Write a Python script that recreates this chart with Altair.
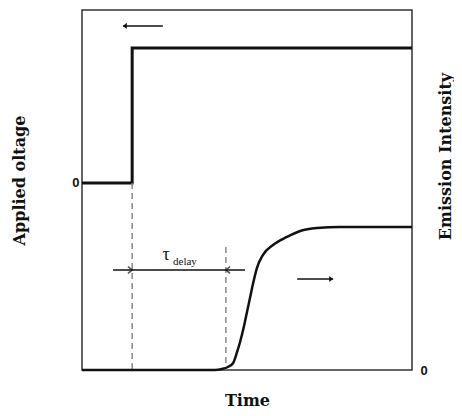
import altair as alt
import pandas as pd

# ---- data ----
# Applied voltage (step)
volt_t = [0.0, 1.52, 1.52, 10.0]
volt_v = [0.0, 0.0, 1.0, 1.0]

# Emission intensity (delayed sigmoid rise)
emis_t = [0.0, 4.03, 4.24, 4.42, 4.58, 4.70, 4.79, 4.91, 5.00, 5.09, 5.18, 5.30,
          5.48, 5.79, 6.21, 6.61, 7.12, 7.82, 10.0]
emis_i = [0.0, 0.0, 0.007, 0.021, 0.049, 0.126, 0.196, 0.308, 0.406, 0.503, 0.601,
          0.713, 0.804, 0.874, 0.930, 0.972, 0.993, 1.0, 1.0]

# dashed guide lines (time, from voltage level, to voltage level)
guide_t = [1.52, 4.36]
guide_v1 = [0.0, -0.474]
guide_v2 = [-1.385, -1.385]

# delay double arrow
delay_t1, delay_t2, delay_v = 0.94, 4.94, -0.644
delay_heads_t = [1.52, 4.36]
delay_heads_dir = ["right", "left"]

# axis direction arrows
dir_t1 = [2.45, 6.52]
dir_t2 = [1.24, 7.61]
dir_v = [1.163, -0.711]
dir_head = ["left", "right"]

# label
tau_t, tau_v = 2.55, -0.53
sub_t, sub_v = 3.12, -0.585

T_DOM = [0, 10]
V_DOM = [-1.385, 1.281]
I_DOM = [0, 2.517]

W, H = 330, 360

xs = alt.Scale(domain=T_DOM, nice=False, zero=False)
vs = alt.Scale(domain=V_DOM, nice=False, zero=False)
iscale = alt.Scale(domain=I_DOM, nice=False, zero=False)

serif = "Liberation Serif"
tfont = "DejaVu Serif"
TFS = 16

volt_df = pd.DataFrame({"t": volt_t, "v": volt_v})
emis_df = pd.DataFrame({"t": emis_t, "i": emis_i})
guide_df = pd.DataFrame({"t": guide_t, "v1": guide_v1, "v2": guide_v2})
delay_df = pd.DataFrame({"t1": [delay_t1], "t2": [delay_t2], "v": [delay_v]})
dhead_df = pd.DataFrame({"t": delay_heads_t, "v": [delay_v] * 2, "dir": delay_heads_dir})
dir_df = pd.DataFrame({"t1": dir_t1, "t2": dir_t2, "v": dir_v, "dir": dir_head})

x_axis = alt.Axis(title="Time", labels=False, ticks=False, domain=False, grid=False,
                  titleFont=tfont, titleFontSize=TFS, titleFontWeight="bold",
                  titleColor="#111", titleBaseline="middle", titleY=30)

left_axis = alt.Axis(title="Applied oltage", values=[0], labelExpr="'0'", ticks=False,
                     domain=False, grid=False, labelFont="Liberation Sans",
                     labelFontSize=13, labelFontWeight="bold", labelPadding=3,
                     labelColor="#111",
                     titleFont=tfont, titleFontSize=TFS, titleFontWeight="bold",
                     titleColor="#111", titleAngle=270, titleBaseline="middle",
                     titleX=-63, titleY=170)

right_axis = alt.Axis(title="Emission Intensity", orient="right", values=[0],
                      labelExpr="'0'", ticks=False, domain=False, grid=False,
                      labelFont="Liberation Sans", labelFontSize=13,
                      labelFontWeight="bold", labelPadding=8, labelColor="#111",
                      titleFont=tfont, titleFontSize=TFS, titleFontWeight="bold",
                      titleColor="#111", titleAngle=270, titleBaseline="middle",
                      titleX=33, titleY=146)


def X(field):
    return alt.X(field, type="quantitative", scale=xs, axis=x_axis)


def Y(field):
    return alt.Y(field, type="quantitative", scale=vs, axis=left_axis)


volt = alt.Chart(volt_df).mark_line(color="#111", strokeWidth=3, strokeJoin="miter").encode(
    x=X("t"), y=Y("v"), order="index:Q",
).transform_window(index="row_number()")

guides = alt.Chart(guide_df).mark_rule(color="#888", strokeWidth=1.5, strokeDash=[6, 4]).encode(
    x=X("t"), y=Y("v1"), y2="v2:Q",
)

delay = alt.Chart(delay_df).mark_rule(color="#111", strokeWidth=1.5).encode(
    x=X("t1"), x2="t2:Q", y=Y("v"),
)

chevron = {"right": "M-1,-0.8L0,0L-1,0.8", "left": "M1,-0.8L0,0L1,0.8"}
dheads = alt.Chart(dhead_df).mark_point(filled=False, stroke="#111", strokeWidth=1.6, size=70).encode(
    x=X("t"), y=Y("v"),
    shape=alt.Shape("dir:N", scale=alt.Scale(domain=["right", "left"],
                                             range=[chevron["right"], chevron["left"]]),
                    legend=None),
)

dir_lines = alt.Chart(dir_df).mark_rule(color="#111", strokeWidth=1.5).encode(
    x=X("t1"), x2="t2:Q", y=Y("v"),
)

tri = {"right": "M-1,-0.6L0,0L-1,0.6Z", "left": "M1,-0.6L0,0L1,0.6Z"}
dir_heads = alt.Chart(dir_df).mark_point(filled=True, color="#111", size=60, opacity=1).encode(
    x=X("t2"), y=Y("v"),
    shape=alt.Shape("dir:N", scale=alt.Scale(domain=["right", "left"],
                                             range=[tri["right"], tri["left"]]),
                    legend=None),
)

tau = alt.Chart(pd.DataFrame({"t": [tau_t], "v": [tau_v], "s": ["τ"]})).mark_text(
    font=serif, fontSize=18, color="#111").encode(
    x=X("t"), y=Y("v"), text="s:N",
)
sub = alt.Chart(pd.DataFrame({"t": [sub_t], "v": [sub_v], "s": ["delay"]})).mark_text(
    font=serif, fontSize=11, color="#111").encode(
    x=X("t"), y=Y("v"), text="s:N",
)

emis = alt.Chart(emis_df).mark_line(color="#111", strokeWidth=2.5, interpolate="monotone").encode(
    x=X("t"),
    y=alt.Y("i:Q", scale=iscale, axis=right_axis),
)

left_layer = alt.layer(volt, guides, delay, dheads, dir_lines, dir_heads, tau, sub)

chart = alt.layer(left_layer, emis).resolve_scale(y="independent").properties(
    width=W, height=H,
    autosize=alt.AutoSizeParams(type="none"),
    padding={"left": 74, "top": 2, "right": 42, "bottom": 38},
).configure_view(stroke="#333", strokeWidth=1.5)

chart.save("out.html", embed_options={"renderer": "svg", "actions": False})
